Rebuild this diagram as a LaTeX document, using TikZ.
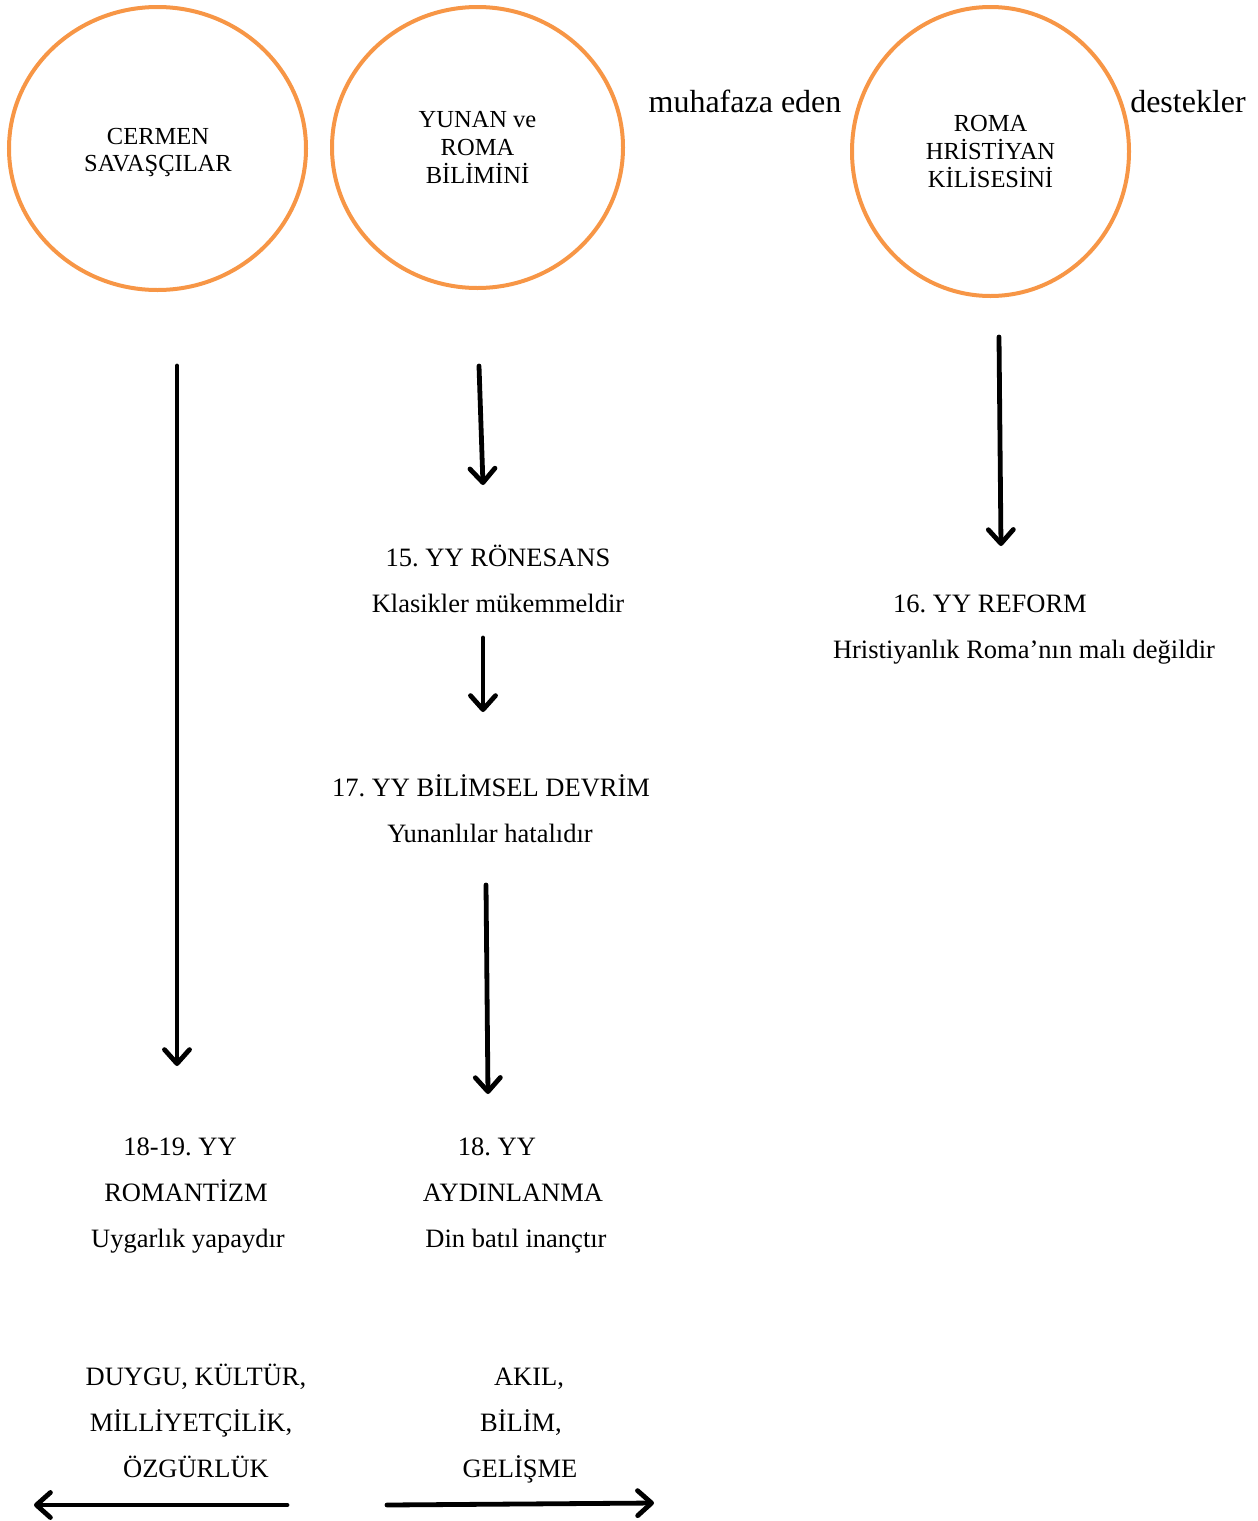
\documentclass[tikz,border=0pt]{standalone}
\usepackage{fontspec}
\setmainfont{Liberation Serif}
\usetikzlibrary{shapes.geometric,arrows.meta}
\definecolor{circorange}{HTML}{F79646}
\tikzset{
  circ/.style={ellipse, draw=circorange, line width=4pt, inner sep=0pt, align=center,
    font=\fontsize{24.5}{27.8}\selectfont},
  ctext/.style={inner sep=0pt, align=center, font=\fontsize{24.5}{27.8}\selectfont},
  lbl/.style={anchor=base, inner sep=0pt, font=\fontsize{26.5}{30}\selectfont},
  biglbl/.style={anchor=base, inner sep=0pt, font=\fontsize{32}{36}\selectfont},
  arr/.style={line width=4.8pt, line cap=round, line join=round,
    -{Straight Barb[length=14pt,width=25pt,line cap=round,line join=round]}}
}
\begin{document}
\frenchspacing
\begin{tikzpicture}[x=1pt,y=-1pt]
\useasboundingbox (0,0) rectangle (1258,1521);
% circles
\node[circ, minimum width=297pt, minimum height=283pt] (c1) at (157.5,148.5) {};
\node[ctext] (c1t) at (158,152.5) {CERMEN\\SAVAŞÇILAR};
\node[circ, minimum width=291pt, minimum height=281pt] (c2) at (477.5,147.5) {YUNAN ve\\ROMA\\BİLİMİNİ};
\node[circ, minimum width=277pt, minimum height=289pt] (c3) at (990.5,151.5) {ROMA\\HRİSTİYAN\\KİLİSESİNİ};
% side words
\node[biglbl] (muh) at (745,112) {muhafaza eden};
\node[biglbl] (des) at (1188,112) {destekler};
% texts
\node[lbl] (ron1) at (498,566) {15. YY RÖNESANS};
\node[lbl] (ron2) at (498,612) {Klasikler mükemmeldir};
\node[lbl] (ref1) at (990,612) {16. YY REFORM};
\node[lbl] (ref2) at (1024,658) {Hristiyanlık Roma’nın malı değildir};
\node[lbl] (bil1) at (491,796) {17. YY BİLİMSEL DEVRİM};
\node[lbl] (bil2) at (490,842) {Yunanlılar hatalıdır};
\node[lbl] (rom1) at (180,1155) {18-19. YY};
\node[lbl] (rom2) at (186,1201) {ROMANTİZM};
\node[lbl] (rom3) at (188,1247) {Uygarlık yapaydır};
\node[lbl] (ayd1) at (497,1155) {18. YY};
\node[lbl] (ayd2) at (513,1201) {AYDINLANMA};
\node[lbl] (ayd3) at (516,1247) {Din batıl inançtır};
\node[lbl] (duy1) at (196,1385) {DUYGU, KÜLTÜR,};
\node[lbl] (duy2) at (191,1431) {MİLLİYETÇİLİK,};
\node[lbl] (duy3) at (196,1477) {ÖZGÜRLÜK};
\node[lbl] (ak1) at (529,1385) {AKIL,};
\node[lbl] (ak2) at (521,1431) {BİLİM,};
\node[lbl] (ak3) at (520,1477) {GELİŞME};
% arrow endpoints
\coordinate (a1s) at (177,366);
\coordinate (a1e) at (177,1066);
\coordinate (a2s) at (479,366);
\coordinate (a2e) at (483,485);
\coordinate (a3s) at (999,337);
\coordinate (a3e) at (1001,546);
\coordinate (a4s) at (483,638);
\coordinate (a4e) at (483,712);
\coordinate (a5s) at (486,885);
\coordinate (a5e) at (488,1094);
\coordinate (a6s) at (287,1505);
\coordinate (a6e) at (34,1505);
\coordinate (a7s) at (387,1505);
\coordinate (a7e) at (654,1503);
\draw[arr] (a1s) -- (a1e);
\draw[arr] (a2s) -- (a2e);
\draw[arr] (a3s) -- (a3e);
\draw[arr] (a4s) -- (a4e);
\draw[arr] (a5s) -- (a5e);
\draw[arr] (a6s) -- (a6e);
\draw[arr] (a7s) -- (a7e);
\end{tikzpicture}
\end{document}
